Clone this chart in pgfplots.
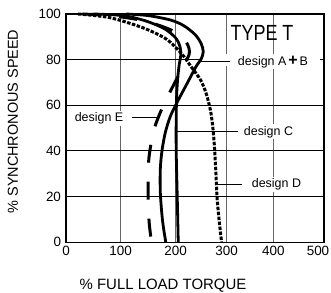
\documentclass[border=0pt]{standalone}
\usepackage{fontspec}
\setmainfont{Liberation Sans}
\usepackage{graphicx}
\usepackage{pgfplots}
\pgfplotsset{compat=1.18}
\begin{document}
\begin{tikzpicture}
\begin{axis}[
  scale only axis, width=258bp, height=228.3bp,
  % the printed chart has slightly uneven spacing of its x grid lines
  x coord trafo/.code={\pgfmathparse{#1<100 ? #1*1.06 : (#1<200 ? 106+(#1-100)*1.066 : (#1<300 ? 212.6+(#1-200)*0.988 : (#1<400 ? 311.4+(#1-300)*0.903 : 401.7+(#1-400)*0.983)))}},
  x coord inv trafo/.code={\pgfmathparse{#1<106 ? #1/1.06 : (#1<212.6 ? 100+(#1-106)/1.066 : (#1<311.4 ? 200+(#1-212.6)/0.988 : (#1<401.7 ? 300+(#1-311.4)/0.903 : 400+(#1-401.7)/0.983)))}},
  xmin=0, xmax=500, ymin=0, ymax=100,
  xtick={0,100,200,300,400,500}, ytick={0,20,...,100},
  xticklabels={0,100,200,300,400,\hspace*{-12bp}500},
  major tick length=0pt,
  grid=major,
  major x grid style={black!60, line width=0.9bp},
  major y grid style={black, line width=1bp},
  axis line style={line width=1.4bp},
  tick label style={font=\fontsize{13.5}{15}\selectfont},
  yticklabel style={xshift=-1.5bp},
  /pgf/number format/assume math mode=true,
  clip=false,
]
% labels (drawn first so the curves lie on top)
\node[font=\fontsize{15}{17}\selectfont] at (rel axis cs:0.376,-0.191) {\% FULL LOAD TORQUE};
\node[font=\fontsize{14.5}{16}\selectfont, rotate=90] at (rel axis cs:-0.2054,0.529) {\% SYNCHRONOUS SPEED};
\node[font=\fontsize{22}{24}\selectfont] at (axis cs:375.8,91.7) {\scalebox{0.82}[1]{TYPE T}};
% design A + B
\fill[white] (axis cs:252,77.2) rectangle (axis cs:492.5,82.4);
\draw[line width=1.3bp] (axis cs:248,79.1) -- (axis cs:307,79.1);
\node[fill=white, inner sep=1.5bp, font=\fontsize{12.5}{14}\selectfont] at (axis cs:399.4,79.1) {design A\hspace{2bp}{\fontsize{16}{16}\selectfont\textbf{+}}\hspace{2bp}B};
% design C
\draw[line width=1.3bp] (axis cs:201,48.4) -- (axis cs:325,48.4);
\node[fill=white, inner sep=1.5bp, font=\fontsize{12.5}{14}\selectfont] at (axis cs:389.7,48.4) {design C};
% design D
\draw[line width=1.3bp] (axis cs:279,25.4) -- (axis cs:332,25.4);
\node[fill=white, inner sep=1.5bp, font=\fontsize{12.5}{14}\selectfont] at (axis cs:406.3,25.4) {design D};
% design E
\draw[line width=1.3bp] (axis cs:120,54.7) -- (axis cs:166,54.7);
\node[fill=white, inner sep=1.5bp, font=\fontsize{12.5}{14}\selectfont] at (axis cs:60.3,54.3) {design E};

% design D (dotted)
\addplot[line width=3bp, dash pattern=on 3.5bp off 1.5bp, smooth] coordinates {
(22,100) (80,98.4) (140,94) (183,89) (212,82.5) (230,77) (249,71) (260,65)
(268,58) (272,52) (275,45) (277,38) (279,30) (281,20) (285,10) (290,0)};
% design E (dashed)
\addplot[line width=3bp, dash pattern=on 18bp off 19bp, smooth] coordinates {
(30,100) (80,99.3) (130,97.6) (170,95) (200,92) (218,88.6) (226,85) (226,82)
(216,78) (203,72) (190,66) (174,58) (162,50.5) (155,43) (151,36) (150,27)
(150,17) (152,8) (156,0)};
% design C (solid)
\addplot[line width=2.8bp, smooth] coordinates {
(50,100) (90,99.6) (120,98.6) (150,96.6) (180,93.5) (200,89.5) (208,86) (210,82)
(207,78) (204,72) (202,65) (201,55) (201,40) (203,20) (205,0)};
% design A + B (solid)
\addplot[line width=2.8bp, smooth] coordinates {
(110,100) (150,99.3) (190,97.4) (215,95) (238,91) (250,87) (254,83.5) (250,80.3)
(240,77) (221,69) (202,61) (190,55) (181,48) (175,40) (172,32) (172,22)
(175,12) (178,6) (182,0)};
\end{axis}
\pgfresetboundingbox
\path[use as bounding box] (-66bp,-50.7bp) rectangle (265bp,242.3bp);
\end{tikzpicture}
\end{document}
